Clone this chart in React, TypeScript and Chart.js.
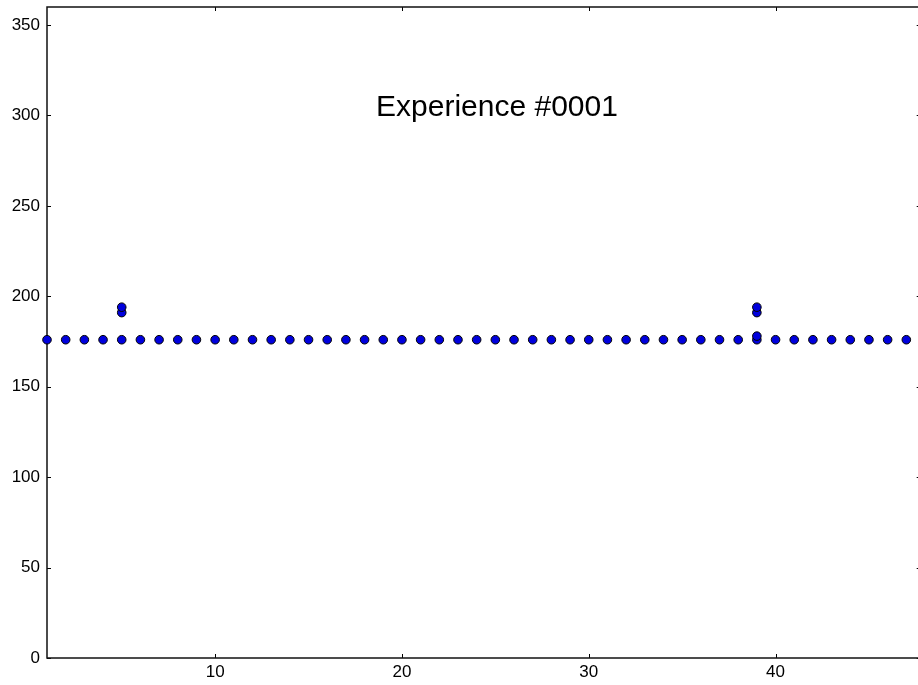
import React, { useEffect, useRef } from "react";
import { Chart, registerables } from "chart.js";

Chart.register(...registerables);

// Main row of observations (sample index -> value)
const xMain = [1, 2, 3, 4, 5, 6, 7, 8, 9, 10, 11, 12, 13, 14, 15, 16, 17, 18, 19, 20, 21, 22, 23, 24, 25, 26, 27, 28, 29, 30, 31, 32, 33, 34, 35, 36, 37, 38, 39, 40, 41, 42, 43, 44, 45, 46, 47];
const yMain = [176, 176, 176, 176, 176, 176, 176, 176, 176, 176, 176, 176, 176, 176, 176, 176, 176, 176, 176, 176, 176, 176, 176, 176, 176, 176, 176, 176, 176, 176, 176, 176, 176, 176, 176, 176, 176, 176, 176, 176, 176, 176, 176, 176, 176, 176, 176];
// Additional observations
const xExtra = [5, 5, 39, 39, 39];
const yExtra = [191, 194, 178, 191, 194];

const xTicks = [10, 20, 30, 40];
const yTicks = [0, 50, 100, 150, 200, 250, 300, 350];
const xMin = 1;
const xMax = 47.77;
const yMin = 0;
const yMax = 360;
const titleText = "Experience #0001";

const FONT = "'Liberation Sans', Arial, sans-serif";

const framePlugin = {
  id: "mplFrame",
  beforeDatasetsDraw(chart: any) {
    const { ctx, chartArea, scales } = chart;
    const { left, right, top, bottom } = chartArea;
    const xs = scales.x;
    const ys = scales.y;
    ctx.save();
    ctx.strokeStyle = "#000";
    ctx.lineWidth = 1;
    const tl = 4;
    ctx.beginPath();
    for (const v of xTicks) {
      const px = Math.round(xs.getPixelForValue(v)) + 0.5;
      ctx.moveTo(px, bottom);
      ctx.lineTo(px, bottom - tl);
      ctx.moveTo(px, top);
      ctx.lineTo(px, top + tl);
    }
    for (const v of yTicks) {
      const py = Math.round(ys.getPixelForValue(v)) + 0.5;
      ctx.moveTo(left, py);
      ctx.lineTo(left + tl, py);
      ctx.moveTo(right, py);
      ctx.lineTo(right - tl, py);
    }
    ctx.stroke();
    ctx.lineWidth = 1.5;
    ctx.strokeStyle = "#111";
    ctx.strokeRect(left, top, right - left, bottom - top);
    ctx.restore();
  },
  afterDraw(chart: any) {
    const { ctx } = chart;
    ctx.save();
    ctx.fillStyle = "#000";
    ctx.font = `30px ${FONT}`;
    ctx.textAlign = "center";
    ctx.textBaseline = "alphabetic";
    ctx.fillText(titleText, 497, 115.5);
    ctx.restore();
  },
};

export default function App() {
  const ref = useRef<HTMLCanvasElement | null>(null);

  useEffect(() => {
    if (!ref.current) return;
    const points = [
      ...xMain.map((x, i) => ({ x, y: yMain[i] })),
      ...xExtra.map((x, i) => ({ x, y: yExtra[i] })),
    ];
    const chart = new Chart(ref.current, {
      type: "scatter",
      data: {
        datasets: [
          {
            data: points,
            backgroundColor: "#0000dd",
            borderColor: "#000",
            borderWidth: 1,
            pointRadius: 4.3,
            pointHoverRadius: 4.3,
            clip: false as any,
          },
        ],
      },
      options: {
        animation: false,
        responsive: false,
        devicePixelRatio: 1,
        layout: { padding: { left: 0, top: 7, right: 2, bottom: 0 } },
        plugins: {
          legend: { display: false },
          tooltip: { enabled: false },
          title: { display: false },
        },
        events: [],
        scales: {
          x: {
            type: "linear",
            min: xMin,
            max: xMax,
            grid: { display: false, drawTicks: false },
            border: { display: false },
            afterBuildTicks: (s: any) => {
              s.ticks = xTicks.map((v) => ({ value: v }));
            },
            afterFit: (s: any) => {
              s.height = 27;
              s.paddingLeft = 0;
              s.paddingRight = 0;
            },
            ticks: {
              color: "#000",
              font: { family: FONT, size: 17 },
              padding: 4,
              maxRotation: 0,
              autoSkip: false,
            },
          },
          y: {
            type: "linear",
            min: yMin,
            max: yMax,
            grid: { display: false, drawTicks: false },
            border: { display: false },
            afterBuildTicks: (s: any) => {
              s.ticks = yTicks.map((v) => ({ value: v }));
            },
            afterFit: (s: any) => {
              s.width = 47;
              s.paddingTop = 0;
              s.paddingBottom = 0;
            },
            ticks: {
              color: "#000",
              font: { family: FONT, size: 17 },
              padding: 7,
              autoSkip: false,
            },
          },
        },
      },
      plugins: [framePlugin],
    });
    return () => chart.destroy();
  }, []);

  return (
    <div
      style={{
        position: "fixed",
        left: 0,
        top: 0,
        width: 918,
        height: 685,
        overflow: "hidden",
        background: "#fff",
      }}
    >
      <canvas ref={ref} width={926} height={685} style={{ width: 926, height: 685, display: "block" }} />
    </div>
  );
}
